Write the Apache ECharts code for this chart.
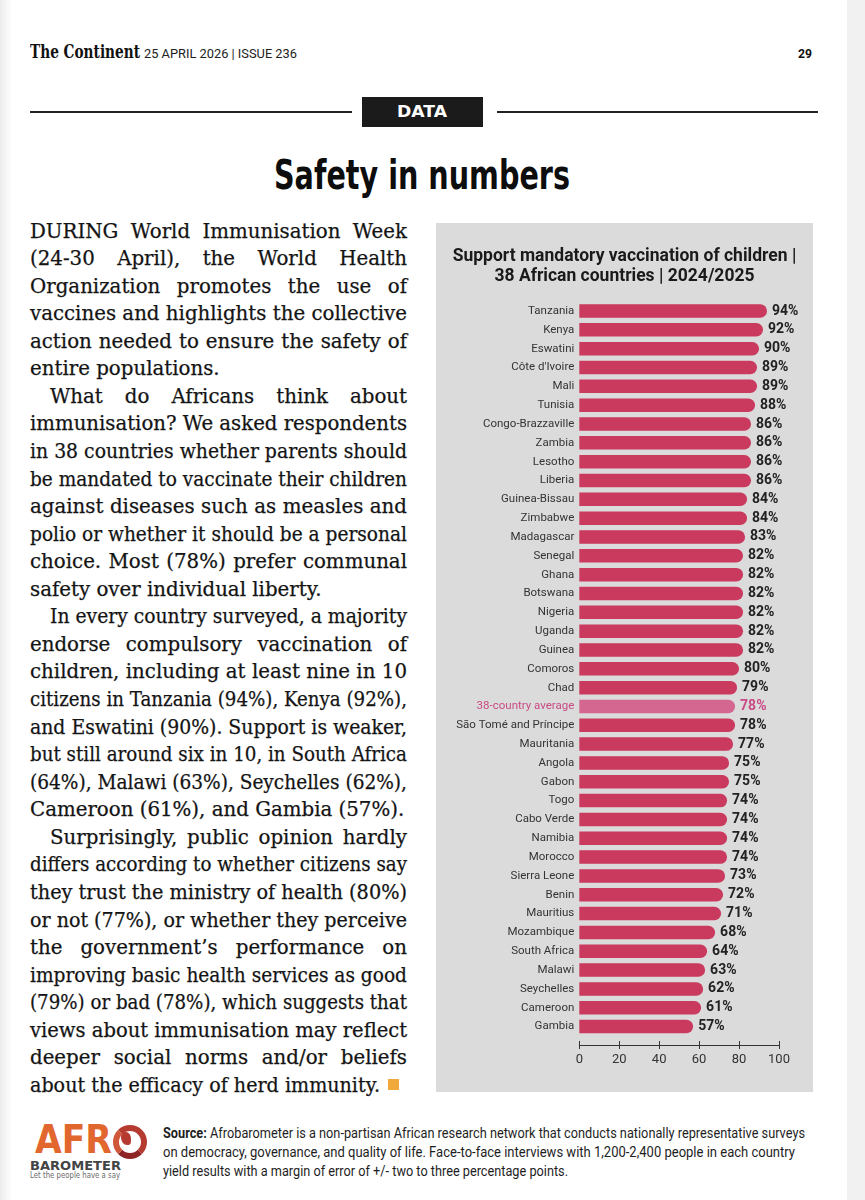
<!DOCTYPE html>
<html>
<head>
<meta charset="utf-8">
<script src="https://cdn.jsdelivr.net/npm/echarts@6/dist/echarts.min.js"></script>
<style>
  html, body { margin: 0; padding: 0; background: #fff; }
  body { width: 865px; height: 1200px; position: relative; overflow: hidden; }
  .abs { position: absolute; white-space: nowrap; }
  .ln { position: absolute; white-space: nowrap; font-family: 'DejaVu Serif'; font-size: 19.5px; line-height: 19.5px; color: #141414; -webkit-text-stroke: 0.25px #141414; transform-origin: left center; }
</style>
</head>
<body>
<div class="abs" style="left:0;top:0;width:12px;height:1200px;background:linear-gradient(to right,#ececec,#fff)"></div>
<div class="abs" style="left:847px;top:0;width:18px;height:1200px;background:#f1f1f1"></div>

<!-- header -->
<div class="abs fit" data-w="110" style="left:30px;top:43px;font:bold 18px/18px 'DejaVu Serif';color:#111">The Continent</div>
<div class="abs fit" data-w="153" style="left:144px;top:46.5px;font:13px/13px Roboto;color:#222">25 APRIL 2026 | ISSUE 236</div>
<div class="abs fit" data-w="14" style="left:798px;top:46.5px;font:bold 13px/13px Roboto;color:#111">29</div>

<div class="abs" style="left:30px;top:111px;width:322px;height:1.5px;background:#222"></div>
<div class="abs" style="left:497px;top:111px;width:321px;height:1.5px;background:#222"></div>
<div class="abs" style="left:362px;top:97px;width:121px;height:30px;background:#1b1b1b"></div>
<div class="abs fit" data-w="50" style="left:397px;top:104px;font:bold 16px/16px 'DejaVu Sans';color:#fff">DATA</div>

<div class="abs fit" data-w="296" style="left:274px;top:155px;font:bold 40px/40px 'DejaVu Sans';color:#0d0d0d">Safety in numbers</div>

<!-- chart -->
<div id="chart" class="abs" style="left:436px;top:223px;width:377px;height:869px"></div>

<div id="bodytext"></div>
<div class="abs" style="left:388px;top:1079px;width:11px;height:11px;background:#f2a93b"></div>

<!-- footer logo -->
<div class="abs fit" data-w="77" style="left:35px;top:1120px;font:bold 39px/39px 'DejaVu Sans';color:#e2672e">AFR</div>
<div class="abs" style="left:113px;top:1125px;width:22px;height:22px;border-radius:50%;border:6px solid #b53a30;border-left-color:#d0573a;border-bottom-color:#8f2626"></div>
<div class="abs" style="left:121px;top:1132px;width:10px;height:13px;border-radius:40% 50% 30% 60%;background:#b53a30"></div>
<div class="abs fit" data-w="91" style="left:30px;top:1159px;font:bold 13px/13px 'DejaVu Sans';color:#434545">BAROMETER</div>
<div class="abs fit" data-w="90" style="left:30px;top:1172px;font:8px/8px 'DejaVu Sans';color:#6a6a6a">Let the people have a say</div>

<div class="abs fit" data-w="642" style="left:163px;top:1126px;font:14px/14px Roboto;color:#1e1e1e"><b>Source:</b> Afrobarometer is a non-partisan African research network that conducts nationally representative surveys</div>
<div class="abs fit" data-w="632" style="left:163px;top:1145px;font:14px/14px Roboto;color:#1e1e1e">on democracy, governance, and quality of life. Face-to-face interviews with 1,200-2,400 people in each country</div>
<div class="abs fit" data-w="405" style="left:163px;top:1164px;font:14px/14px Roboto;color:#1e1e1e">yield results with a margin of error of +/- two to three percentage points.</div>

<script>
// chart data
const countries = [
  'Tanzania', 'Kenya', 'Eswatini', "Côte d'Ivoire", 'Mali', 'Tunisia', 'Congo-Brazzaville',
  'Zambia', 'Lesotho', 'Liberia', 'Guinea-Bissau', 'Zimbabwe', 'Madagascar', 'Senegal',
  'Ghana', 'Botswana', 'Nigeria', 'Uganda', 'Guinea', 'Comoros', 'Chad', '38-country average',
  'São Tomé and Príncipe', 'Mauritania', 'Angola', 'Gabon', 'Togo', 'Cabo Verde', 'Namibia',
  'Morocco', 'Sierra Leone', 'Benin', 'Mauritius', 'Mozambique', 'South Africa', 'Malawi',
  'Seychelles', 'Cameroon', 'Gambia'
];
const support = [
  94, 92, 90, 89, 89, 88, 86,
  86, 86, 86, 84, 84, 83, 82,
  82, 82, 82, 82, 82, 80, 79, 78,
  78, 77, 75, 75, 74, 74, 74,
  74, 73, 72, 71, 68, 64, 63,
  62, 61, 57
];
const averageName = '38-country average';
const xTicks = [0, 20, 40, 60, 80, 100];

// article text, one entry per printed line
const paragraphs = [
  ['DURING World Immunisation Week', '(24-30 April), the World Health', 'Organization promotes the use of',
   'vaccines and highlights the collective', 'action needed to ensure the safety of', 'entire populations.'],
  ['What do Africans think about', 'immunisation? We asked respondents', 'in 38 countries whether parents should',
   'be mandated to vaccinate their children', 'against diseases such as measles and',
   'polio or whether it should be a personal', 'choice. Most (78%) prefer communal', 'safety over individual liberty.'],
  ['In every country surveyed, a majority', 'endorse compulsory vaccination of',
   'children, including at least nine in 10', 'citizens in Tanzania (94%), Kenya (92%),',
   'and Eswatini (90%). Support is weaker,', 'but still around six in 10, in South Africa',
   '(64%), Malawi (63%), Seychelles (62%),', 'Cameroon (61%), and Gambia (57%).'],
  ['Surprisingly, public opinion hardly', 'differs according to whether citizens say',
   'they trust the ministry of health (80%)', 'or not (77%), or whether they perceive',
   'the government\u2019s performance on', 'improving basic health services as good',
   '(79%) or bad (78%), which suggests that', 'views about immunisation may reflect',
   'deeper social norms and/or beliefs', 'about the efficacy of herd immunity.']
];

function fitAll() {
  document.querySelectorAll('.fit').forEach(el => {
    const w = el.getBoundingClientRect().width;
    el.style.transformOrigin = 'left center';
    el.style.transform = 'scaleX(' + (Number(el.dataset.w) / w) + ')';
  });
}

function layoutBody() {
  const host = document.getElementById('bodytext');
  const colLeft = 30, colW = 377, top0 = 221.5, lh = 27.56, indent = 20;
  const items = [];
  let row = 0;
  paragraphs.forEach((lines, p) => {
    lines.forEach((txt, i) => {
      const d = document.createElement('div');
      d.className = 'ln';
      d.textContent = txt;
      const ind = (p > 0 && i === 0) ? indent : 0;
      d.style.left = (colLeft + ind) + 'px';
      d.style.top = (top0 + row * lh) + 'px';
      host.appendChild(d);
      items.push({ d, txt, ind, last: i === lines.length - 1, end: p === paragraphs.length - 1 && i === lines.length - 1 });
      row++;
    });
  });
  // reference compression from a naturally full line
  const refItem = items.find(it => it.txt.startsWith('vaccines and'));
  const S = colW / refItem.d.getBoundingClientRect().width;
  items.forEach(it => {
    const w = it.d.getBoundingClientRect().width;
    const target = colW - it.ind - (it.end ? 27 : 0);
    const sc = Math.min(S, target / w);
    if (!it.last) {
      const spaces = (it.txt.match(/ /g) || []).length;
      const extra = target / sc - w;
      if (spaces > 0) it.d.style.wordSpacing = (extra / spaces) + 'px';
    }
    it.d.style.transform = 'scaleX(' + sc + ')';
  });
}

fitAll();
layoutBody();

const chart = echarts.init(document.getElementById('chart'));
chart.setOption({
  backgroundColor: '#dbdbdb',
  animation: false,
  textStyle: { fontFamily: 'Roboto' },
  title: {
    text: 'Support mandatory vaccination of children |\n38 African countries | 2024/2025',
    left: 'center',
    top: 18,
    textStyle: { fontSize: 17.5, fontWeight: 'bold', color: '#1a1a1a', lineHeight: 20.5, fontFamily: 'Roboto' }
  },
  grid: { left: 143.3, right: 34, top: 78.6, bottom: 56 },
  xAxis: [
    {
      type: 'value', min: xTicks[0], max: xTicks[xTicks.length - 1], interval: 20,
      position: 'bottom', offset: 9,
      axisLine: { show: true, lineStyle: { color: '#333', width: 1 } },
      axisTick: { show: true, length: 4, lineStyle: { color: '#333' } },
      axisLabel: { fontSize: 13, color: '#333', margin: 8 },
      splitLine: { show: false }
    },
    {
      type: 'value', min: xTicks[0], max: xTicks[xTicks.length - 1], interval: 20,
      position: 'bottom', offset: 9,
      axisLine: { show: false },
      axisTick: { show: true, inside: true, length: 4, lineStyle: { color: '#333' } },
      axisLabel: { show: false },
      splitLine: { show: false }
    }
  ],
  yAxis: {
    type: 'category',
    data: countries,
    inverse: true,
    axisLine: { show: false },
    axisTick: { show: false },
    axisLabel: {
      fontSize: 11.5,
      margin: 5,
      color: v => (v === averageName ? '#c94a84' : '#333')
    }
  },
  series: [{
    type: 'bar',
    xAxisIndex: 0,
    barWidth: 13.5,
    data: support.map((v, i) => countries[i] === averageName
      ? { value: v, itemStyle: { color: '#d4678f' }, label: { color: '#c94a84' } }
      : v),
    itemStyle: { color: '#c93a5e', borderRadius: [0, 7, 7, 0] },
    label: {
      show: true, position: 'right', distance: 5, formatter: '{c}%',
      fontSize: 14, fontWeight: 'bold', color: '#222'
    }
  }]
});
</script>
</body>
</html>
